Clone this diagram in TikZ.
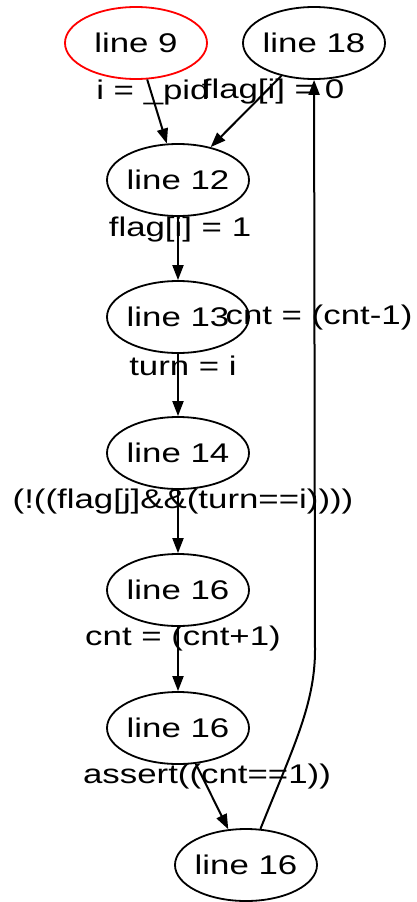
\documentclass[tikz,border=0pt]{standalone}
\usepackage{fontspec}
\setmainfont{Liberation Sans}
\usetikzlibrary{shapes.geometric,arrows.meta}
\newcommand\hx[1]{\scalebox{1.29}[1]{#1}}
\tikzset{
  st/.style={ellipse, draw=black, line width=1.8pt, minimum width=142pt, minimum height=72pt, inner xsep=-2pt, inner ysep=0pt, font=\fontsize{27}{30}\selectfont},
  lab/.style={inner sep=0pt, font=\fontsize{27}{30}\selectfont},
  ed/.style={line width=2pt, -{Triangle[length=15pt,width=11pt]}},
}
\begin{document}
\begin{tikzpicture}[x=1pt,y=-1pt]
\useasboundingbox (0,0) rectangle (416,902);
\node[st, draw=red] (n9) at (136,43) {\hx{line 9}};
\node[st] (n18) at (314,43) {\hx{line 18}};
\node[st] (n12) at (178,180) {\hx{line 12}};
\node[st] (n13) at (178,317) {\hx{line 13}};
\node[st] (n14) at (178,453) {\hx{line 14}};
\node[st] (n16a) at (178,590) {\hx{line 16}};
\node[st] (n16b) at (178,728) {\hx{line 16}};
\node[st] (n16c) at (246,865) {\hx{line 16}};
\coordinate (bend) at (315,650);

\draw[ed] (n9) -- (n12);
\draw[ed] (n18) -- (n12);
\draw[ed] (n12) -- (n13);
\draw[ed] (n13) -- (n14);
\draw[ed] (n14) -- (n16a);
\draw[ed] (n16a) -- (n16b);
\draw[ed] (n16b) -- (n16c);
\draw[ed] (n16c) .. controls (292,750) and (315,705) .. (bend) -- (n18);

\node[lab] (l1) at (153,93) {\hx{i = \_pid}};
\node[lab] (l2) at (273,92) {\hx{flag[i] = 0}};
\node[lab] (l3) at (180,230) {\hx{flag[i] = 1}};
\node[lab] (l4) at (319,318) {\hx{cnt = (cnt-1)}};
\node[lab] (l5) at (183,366) {\hx{turn = i}};
\node[lab] (l6) at (183,502) {\hx{(!((flag[j]\&\&(turn==i))))}};
\node[lab] (l7) at (183,639) {\hx{cnt = (cnt+1)}};
\node[lab] (l8) at (207,777) {\hx{assert((cnt==1))}};
\end{tikzpicture}
\end{document}
